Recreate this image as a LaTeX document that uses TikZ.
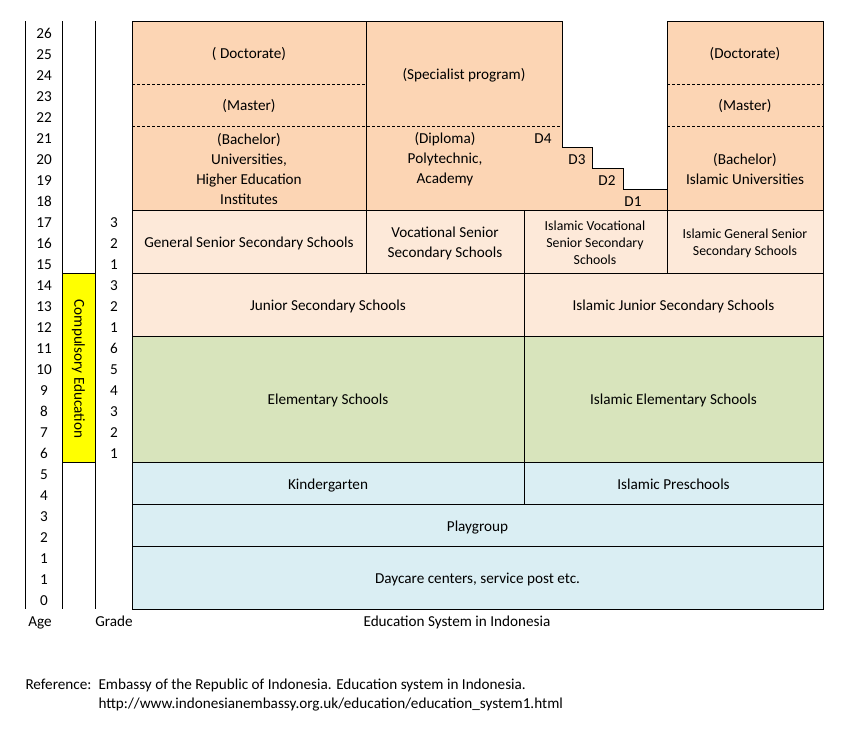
\documentclass[tikz,border=0pt]{standalone}
\usepackage{fontspec}
\setmainfont{Carlito}
\definecolor{peach}{HTML}{FCD5B4}
\definecolor{lpeach}{HTML}{FDE9D9}
\definecolor{olivec}{HTML}{D8E4BC}
\definecolor{aquac}{HTML}{DAEEF3}
\definecolor{yel}{HTML}{FFFF00}
\begin{document}
\begin{tikzpicture}[x=1pt,y=-1pt,line width=1pt,
  lbl/.style={font=\fontsize{15.2}{20}\selectfont,align=center,inner sep=0pt,yshift=-1.5pt},
  sl/.style={font=\fontsize{15.2}{20}\selectfont,inner sep=0pt,anchor=base},
  sm/.style={font=\fontsize{13.8}{16.8}\selectfont,align=center,inner sep=0pt,yshift=-1.5pt},
  dotline/.style={dash pattern=on 3pt off 2pt,line width=1pt}]
\useasboundingbox (0,0) rectangle (850,736);
\fill[white] (0,0) rectangle (850,736);
% fills
\fill[peach] (132,21) rectangle (562,210);
\fill[peach] (562,147) rectangle (592,210);
\fill[peach] (592,168) rectangle (623,210);
\fill[peach] (623,189) rectangle (667,210);
\fill[peach] (667,21) rectangle (823,210);
\fill[lpeach] (132,210) rectangle (823,336);
\fill[olivec] (132,336) rectangle (823,462);
\fill[aquac] (132,462) rectangle (823,609);
\fill[yel] (62,273) rectangle (95,462);
% outline of main grid
\draw (132,609) -- (132,21) -- (562,21) -- (562,147) -- (592,147) -- (592,168)
  -- (623,168) -- (623,189) -- (667,189) -- (667,21) -- (823,21) -- (823,609) -- cycle;
\draw (366,21) -- (366,273);
\draw (667,189) -- (667,273);
\draw (524,210) -- (524,504);
\foreach \yy in {210,273,336,462,504,546} \draw (132,\yy) -- (823,\yy);
\draw[dotline] (132,84) -- (366,84);
\draw[dotline] (132,126) -- (562,126);
\draw[dotline] (667,84) -- (823,84);
\draw[dotline] (667,126) -- (823,126);
% left columns
\draw (25,21) -- (25,609);
\draw (62,21) -- (62,609);
\draw (95,21) -- (95,609);
\draw (62,273) -- (95,273);
\draw (62,462) -- (95,462);
% ages
\foreach \a [count=\i from 0] in {26,25,24,23,22,21,20,19,18,17,16,15,14,13,12,11,10,9,8,7,6,5,4,3,2,1,1,0}
  \node[sl] (age\i) at (44,38+21*\i) {\a};
% grades
\foreach \g [count=\i from 9] in {3,2,1,3,2,1,6,5,4,3,2,1}
  \node[sl] (gr\i) at (114,38+21*\i) {\g};
\node[lbl,yshift=0pt,rotate=-90] (comp) at (78.5,367.5) {Compulsory Education};
% top block
\node[sl] (doc) at (249,58) {( Doctorate)};
\node[sl] (mas) at (249,110.5) {(Master)};
\node[lbl,yshift=0.5pt] (bach) at (249,168) {(Bachelor)\\Universities,\\Higher Education\\Institutes};
\node[sl] (spec) at (464,79) {(Specialist program)};
\node[lbl] (dipl) at (445,158) {(Diploma)\\Polytechnic,\\Academy};
\node[sl] (d4) at (543,143.5) {D4};
\node[sl] (d3) at (577,164.5) {D3};
\node[sl] (d2) at (607,185.5) {D2};
\node[sl] (d1) at (633,206) {D1};
\node[sl] (rdoc) at (745,58) {(Doctorate)};
\node[sl] (rmas) at (745,110.5) {(Master)};
\node[lbl,yshift=0.5pt] (rbach) at (745,168) {(Bachelor)\\Islamic Universities};
% senior
\node[sl] (gsss) at (249,247.5) {General Senior Secondary Schools};
\node[lbl] (vsss) at (445,241.5) {Vocational Senior\\Secondary Schools};
\node[sm] (ivsss) at (595,241.5) {Islamic Vocational\\Senior Secondary\\Schools};
\node[sm] (igsss) at (745,242) {Islamic General Senior\\Secondary Schools};
% junior etc.
\node[sl] (jss) at (328,310) {Junior Secondary Schools};
\node[sl] (ijss) at (673.5,310) {Islamic Junior Secondary Schools};
\node[sl] (es) at (328,404.5) {Elementary Schools};
\node[sl] (ies) at (673.5,404.5) {Islamic Elementary Schools};
\node[sl] (kg) at (328,489) {Kindergarten};
\node[sl] (ips) at (673.5,489) {Islamic Preschools};
\node[sl] (pg) at (477.5,531) {Playgroup};
\node[sl] (dc) at (477.5,583) {Daycare centers, service post etc.};
% bottom
\node[sl] (agel) at (40,626.5) {Age};
\node[sl] (gradel) at (114,626.5) {Grade};
\node[sl] (title) at (457,626.5) {Education System in Indonesia};
\node[sl,anchor=base west] (refl) at (25,689.5) {Reference:};
\node[sl,anchor=base west] (ref1) at (98,689.5) {Embassy of the Republic of Indonesia. Education system in Indonesia.};
\node[sl,anchor=base west] (ref2) at (98,708.5) {http://www.indonesianembassy.org.uk/education/education\_system1.html};
\end{tikzpicture}
\end{document}
